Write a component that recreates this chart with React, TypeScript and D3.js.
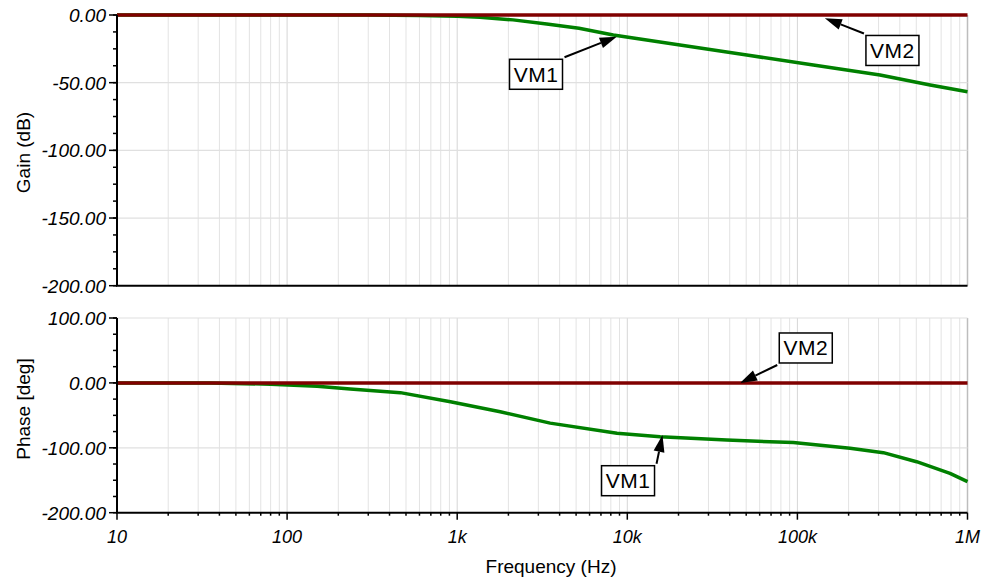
import React from "react";
import * as d3 from "d3";

// ---- data ----
const gainFreq = [10, 100, 300, 600, 1000, 1360, 2130, 3360, 5200, 8270, 20400, 50400, 124000, 306000, 603000, 1000000];
const gainDb = [0, 0, 0, -0.3, -1.0, -1.7, -3.6, -6.6, -9.8, -14.8, -22.2, -29.6, -36.9, -44.3, -51.7, -56.7];

const phaseFreq = [10, 35, 80, 150, 235, 463, 912, 1790, 3520, 8700, 15600, 38400, 94600, 204000, 320000, 502000, 789000, 1000000];
const phaseDeg = [0, 0, -2, -5, -9.4, -15, -29, -44.4, -62, -77.7, -82.9, -88, -92, -100.8, -107.5, -121.4, -139.3, -152.2];

const vm2Freq = [10, 1000000];
const vm2Gain = [0, 0];
const vm2Phase = [0, 0];

const gainTicks = [0, -50, -100, -150, -200];
const phaseTicks = [100, 0, -100, -200];
const freqTicks = [10, 100, 1000, 10000, 100000, 1000000];
const freqTickLabels = ["10", "100", "1k", "10k", "100k", "1M"];

// annotations: tip in data units, box center in data units
const gainNotes = [
  { label: "VM1", tipF: 8670, tipV: -16.0, boxF: 2906, boxV: -43.8 },
  { label: "VM2", tipF: 145000, tipV: -2.4, boxF: 362000, boxV: -26.2 },
];
const phaseNotes = [
  { label: "VM2", tipF: 46000, tipV: 0, boxF: 112000, boxV: 53.8 },
  { label: "VM1", tipF: 16100, tipV: -80.3, boxF: 10100, boxV: -150.7 },
];

const W = 994;
const H = 578;
const FONT = "'Liberation Sans', Arial, sans-serif";

const x = d3.scaleLog().domain([10, 1e6]).range([117, 967.5]);
const yGain = d3.scaleLinear().domain([-200, 0]).range([285.7, 15]);
const yPhase = d3.scaleLinear().domain([-200, 100]).range([512.7, 318]);

function Panel({ y, ticks, minorStep, gridVals, title, titleY, notes, series, redSeries, showXTicks }: any) {
  const [y0, y1] = y.range(); // bottom, top
  const dom = y.domain();
  const minors = d3.range(dom[0], dom[1] + 0.001, minorStep);
  const vLines: number[] = [];
  for (let d = 10; d < 1e6; d *= 10) for (let k = 1; k <= 9; k++) vLines.push(k * d);
  vLines.push(1e6);
  const line = d3.line<[number, number]>().x((p) => x(p[0])).y((p) => y(p[1]));
  const boxW = 53, boxH = 30;
  return (
    <g>
      {/* grid */}
      {vLines.map((f, i) => {
        const isDec = Math.abs(Math.log10(f) - Math.round(Math.log10(f))) < 1e-9;
        return (
          <line key={"v" + i} x1={x(f)} x2={x(f)} y1={y0} y2={y1}
            stroke={f === 1e6 ? "#bdbdbd" : isDec ? "#d6d6d6" : "#e3e3e3"} strokeWidth={f === 1e6 ? 1.5 : 1} />
        );
      })}
      {gridVals.map((v: number) => (
        <line key={"h" + v} x1={x(10)} x2={x(1e6)} y1={y(v)} y2={y(v)} stroke="#e0e0e0" strokeWidth={1.2} />
      ))}
      {/* series */}
      <path d={line(series) || ""} fill="none" stroke="#008000" strokeWidth={3.5} strokeLinejoin="round" />
      <path d={line(redSeries) || ""} fill="none" stroke="#800000" strokeWidth={3.5} />
      {/* axes */}
      <line x1={x(10)} x2={x(10)} y1={y0} y2={y1} stroke="#000" strokeWidth={2} />
      <line x1={x(10) - 1} x2={x(1e6)} y1={y0} y2={y0} stroke="#000" strokeWidth={2} />
      {minors.map((v: number) => (
        <line key={"m" + v} x1={x(10) - 4} x2={x(10)} y1={y(v)} y2={y(v)} stroke="#000" strokeWidth={1.5} />
      ))}
      {ticks.map((v: number) => (
        <g key={"t" + v}>
          <line x1={x(10) - 8} x2={x(10)} y1={y(v)} y2={y(v)} stroke="#000" strokeWidth={1.5} />
          <text x={106} y={y(v) + 7} textAnchor="end" fontFamily={FONT} fontStyle="italic" fontSize={19} fill="#000">
            {v.toFixed(2)}
          </text>
        </g>
      ))}
      {showXTicks && vLines.map((f, i) => {
        const isDec = Math.abs(Math.log10(f) - Math.round(Math.log10(f))) < 1e-9;
        return <line key={"xt" + i} x1={x(f)} x2={x(f)} y1={y0} y2={y0 + (isDec ? 7 : 3)} stroke="#000" strokeWidth={1.5} />;
      })}
      <text transform={`translate(30,${titleY}) rotate(-90)`} textAnchor="middle" fontFamily={FONT} fontSize={19} fill="#000">
        {title}
      </text>
      {/* annotations */}
      {notes.map((n: any, i: number) => {
        const tx = x(n.tipF), ty = y(n.tipV);
        const cx = x(n.boxF), cy = y(n.boxV);
        const cornerX = tx > cx ? cx + boxW / 2 : cx - boxW / 2;
        const cornerY = ty > cy ? cy + boxH / 2 : cy - boxH / 2;
        const sx = cornerX + (tx > cx ? 2 : -2);
        const sy = cornerY + (ty > cy ? 2 : -2);
        const ang = Math.atan2(ty - sy, tx - sx);
        const L = 17, hw = 5.5;
        const bx = tx - L * Math.cos(ang), by = ty - L * Math.sin(ang);
        const px = -Math.sin(ang) * hw, py = Math.cos(ang) * hw;
        return (
          <g key={"n" + i}>
            <line x1={sx} y1={sy} x2={bx} y2={by} stroke="#000" strokeWidth={2} />
            <polygon points={`${tx},${ty} ${bx + px},${by + py} ${bx - px},${by - py}`} fill="#000" />
            <rect x={cx - boxW / 2} y={cy - boxH / 2} width={boxW} height={boxH} fill="#fff" stroke="#000" strokeWidth={1.5} />
            <text x={cx} y={cy + 7.5} textAnchor="middle" fontFamily={FONT} fontSize={21} letterSpacing={0.5} fill="#000">{n.label}</text>
          </g>
        );
      })}
    </g>
  );
}

export default function App() {
  const gainSeries = gainFreq.map((f, i) => [f, gainDb[i]] as [number, number]);
  const phaseSeries = phaseFreq.map((f, i) => [f, phaseDeg[i]] as [number, number]);
  const vm2GainSeries = vm2Freq.map((f, i) => [f, vm2Gain[i]] as [number, number]);
  const vm2PhaseSeries = vm2Freq.map((f, i) => [f, vm2Phase[i]] as [number, number]);
  return (
    <svg width={W} height={H} style={{ position: "absolute", left: 0, top: 0, background: "#fff" }}>
      <rect width={W} height={H} fill="#fff" />
      <Panel y={yGain} ticks={gainTicks} minorStep={12.5} gridVals={[-50, -100, -150]} title="Gain (dB)" titleY={152.5}
        notes={gainNotes} series={gainSeries} redSeries={vm2GainSeries} showXTicks={false} />
      <Panel y={yPhase} ticks={phaseTicks} minorStep={25} gridVals={[100, 0, -100]} title="Phase [deg]" titleY={409}
        notes={phaseNotes} series={phaseSeries} redSeries={vm2PhaseSeries} showXTicks={true} />
      {freqTicks.map((f, i) => (
        <text key={f} x={x(f)} y={543} textAnchor="middle" fontFamily={FONT} fontStyle="italic" fontSize={18} fill="#000">
          {freqTickLabels[i]}
        </text>
      ))}
      <text x={551} y={573} textAnchor="middle" fontFamily={FONT} fontSize={19} fill="#000">Frequency (Hz)</text>
    </svg>
  );
}
